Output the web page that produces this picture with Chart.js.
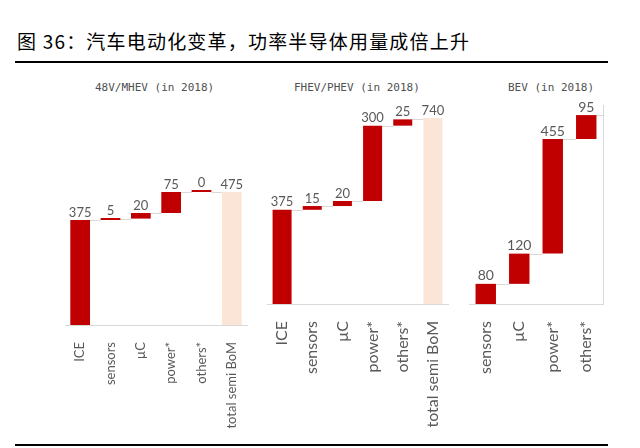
<!DOCTYPE html>
<html>
<head>
<meta charset="utf-8">
<script src="https://cdn.jsdelivr.net/npm/chart.js@4.4.1/dist/chart.umd.min.js"></script>
<style>
  body { margin: 0; width: 640px; height: 448px; position: relative; background: #fff; overflow: hidden; }
  #title { position: absolute; left: 17px; top: 30px; font-family: "Noto Sans CJK SC", sans-serif; font-size: 19px; line-height: 22px; letter-spacing: 1.2px; color: #000; white-space: nowrap; }
  .rule { position: absolute; left: 15px; width: 593px; height: 2px; background: #000; }
  .sub { position: absolute; top: 82px; font-family: "DejaVu Sans Mono", monospace; font-size: 11px; line-height: 12px; color: #505050; white-space: nowrap; }
  .box { position: absolute; }
</style>
</head>
<body>
<div id="title">图 36：汽车电动化变革，功率半导体用量成倍上升</div>
<div class="rule" style="top:61px"></div>
<div class="rule" style="top:444px"></div>

<div class="sub" style="left:95px">48V/MHEV (in 2018)</div>
<div class="sub" style="left:294px">FHEV/PHEV (in 2018)</div>
<div class="sub" style="left:508px">BEV (in 2018)</div>

<div class="box" style="left:50px;top:100px;width:210px;height:340px"><canvas id="c1"></canvas></div>
<div class="box" style="left:255px;top:90px;width:210px;height:350px"><canvas id="c2"></canvas></div>
<div class="box" style="left:460px;top:90px;width:180px;height:350px"><canvas id="c3"></canvas></div>

<script>
// 48V/MHEV
const cats1 = ['ICE', 'sensors', 'µC', 'power*', 'others*', 'total semi BoM'];
const vals1 = [375, 5, 20, 75, 0, 475];
const total1 = [false, false, false, false, false, true];

// FHEV/PHEV
const cats2 = ['ICE', 'sensors', 'µC', 'power*', 'others*', 'total semi BoM'];
const vals2 = [375, 15, 20, 300, 25, 740];
const total2 = [false, false, false, false, false, true];

// BEV
const cats3 = ['sensors', 'µC', 'power*', 'others*'];
const vals3 = [80, 120, 455, 95];
const total3 = [false, false, false, false];

const RED = '#c00000';
const PEACH = '#fbe5d6';
const GRAY_LINE = '#d9d9d9';
const TEXT = '#595959';

// turn step values into floating [from, to] ranges
function toRanges(vals, totals) {
    let run = 0;
    return vals.map((v, i) => {
        if (totals[i]) return [0, v];
        const r = [run, run + v];
        run += v;
        return r;
    });
}

const waterfall = {
    id: 'waterfall',
    beforeDatasetsDraw(chart, args, opts) {
        const ctx = chart.ctx;
        const meta = chart.getDatasetMeta(0);
        const ranges = chart.data.datasets[0].data;
        const y = chart.scales.y;
        const area = chart.chartArea;
        ctx.save();
        ctx.strokeStyle = GRAY_LINE;
        ctx.lineWidth = 1;
        for (let i = 0; i < meta.data.length - 1; i++) {
            const a = meta.data[i], b = meta.data[i + 1];
            const py = Math.round(y.getPixelForValue(ranges[i][1])) + 0.5;
            ctx.beginPath();
            ctx.moveTo(a.x + a.width / 2, py);
            ctx.lineTo(b.x - b.width / 2, py);
            ctx.stroke();
        }
        if (opts.tail) {
            const last = meta.data[meta.data.length - 1];
            const py = Math.round(y.getPixelForValue(ranges[ranges.length - 1][1])) + 0.5;
            ctx.beginPath();
            ctx.moveTo(last.x + last.width / 2, py);
            ctx.lineTo(area.right, py);
            ctx.moveTo(Math.round(area.right) + 0.5, area.top);
            ctx.lineTo(Math.round(area.right) + 0.5, area.bottom);
            ctx.stroke();
        }
        ctx.restore();
    },
    afterDatasetsDraw(chart, args, opts) {
        const ctx = chart.ctx;
        const meta = chart.getDatasetMeta(0);
        ctx.save();
        ctx.fillStyle = TEXT;
        ctx.font = opts.fontSize + 'px Lato';
        ctx.textAlign = 'center';
        ctx.textBaseline = 'bottom';
        meta.data.forEach((bar, i) => {
            const top = Math.min(bar.y, bar.base);
            ctx.fillText(String(opts.values[i]), bar.x, top - 1);
        });
        ctx.restore();
    }
};

function makeChart(id, cats, vals, totals, cfg) {
    return new Chart(document.getElementById(id), {
        type: 'bar',
        data: {
            labels: cats,
            datasets: [{
                data: toRanges(vals, totals),
                backgroundColor: totals.map(t => t ? PEACH : RED),
                borderWidth: 0,
                barPercentage: cfg.barPct,
                categoryPercentage: 1,
                minBarLength: 2
            }]
        },
        options: {
            responsive: true,
            maintainAspectRatio: false,
            animation: false,
            layout: { padding: cfg.padding },
            plugins: {
                legend: { display: false },
                tooltip: { enabled: false },
                waterfall: { values: vals, fontSize: cfg.valueFont, tail: cfg.tail }
            },
            scales: {
                x: {
                    grid: { display: false },
                    border: { color: GRAY_LINE, width: 1 },
                    ticks: {
                        autoSkip: false,
                        minRotation: 90,
                        maxRotation: 90,
                        padding: 9,
                        color: TEXT,
                        font: { family: 'Lato', size: cfg.labelFont }
                    },
                    afterFit: s => { s.height = cfg.axisHeight; }
                },
                y: { display: false, min: 0, max: cfg.max }
            }
        },
        plugins: [waterfall]
    });
}

makeChart('c1', cats1, vals1, total1, {
    padding: { left: 15, right: 13, top: 1, bottom: 0 },
    axisHeight: 115, max: 800, barPct: 0.65, labelFont: 13, valueFont: 13, tail: false
});
makeChart('c2', cats2, vals2, total2, {
    padding: { left: 12, right: 17, top: 3, bottom: 0 },
    axisHeight: 136, max: 840, barPct: 0.63, labelFont: 16, valueFont: 13, tail: false
});
makeChart('c3', cats3, vals3, total3, {
    padding: { left: 9, right: 37, top: 15, bottom: 0 },
    axisHeight: 136, max: 790, barPct: 0.61, labelFont: 16, valueFont: 14, tail: true
});
</script>
</body>
</html>
